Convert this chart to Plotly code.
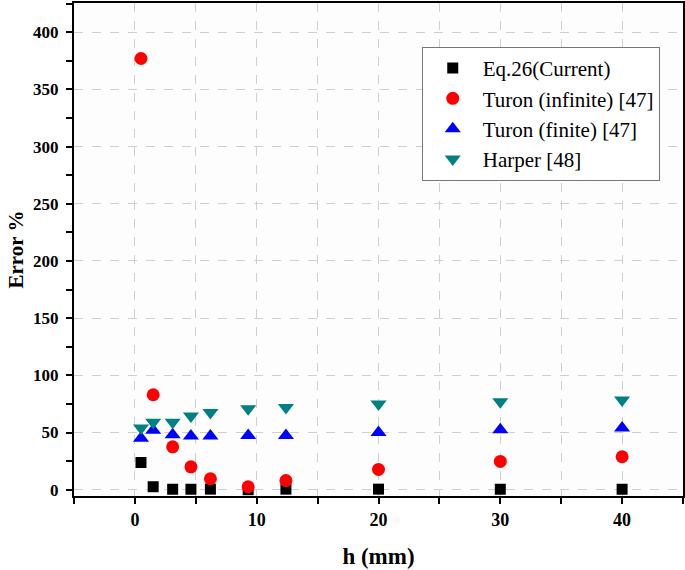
import plotly.graph_objects as go

h = [0.5, 1.5, 3.1, 4.6, 6.2, 9.3, 12.4, 20, 30, 40]
eq26 = [23.8, 2.6, 0.4, 0.4, 0.5, 0.0, 0.5, 0.5, 0.4, 0.4]
turon_inf = [377, 83, 37.5, 20, 9.6, 2.6, 8, 17.7, 24.7, 28.8]
turon_fin = [45, 52, 48, 47, 47, 47.5, 47.5, 50, 52.5, 54]
harper = [54, 59, 59, 64.5, 67.5, 70.8, 71.8, 75, 77, 78.5]

x_ticks = [0, 10, 20, 30, 40]
y_ticks = [0, 50, 100, 150, 200, 250, 300, 350, 400]

series = [
    ("Eq.26(Current)", eq26, "square", "#000000", 11),
    ("Turon (infinite) [47]", turon_inf, "circle", "#ff0000", 13),
    ("Turon (finite) [47]", turon_fin, "triangle-up", "#0000ff", 14),
    ("Harper [48]", harper, "triangle-down", "#008080", 14),
]

fig = go.Figure()
for name, ys, sym, col, sz in series:
    fig.add_trace(go.Scatter(x=h, y=ys, mode="markers", name=name,
                             marker=dict(symbol=sym, color=col, size=sz, line=dict(width=0))))

grid = "#cfcfcf"
axis_common = dict(showline=True, linecolor="black", linewidth=2, mirror=True,
                   ticks="outside", ticklen=6, tickwidth=1.5, tickcolor="black",
                   gridcolor=grid, griddash="dash", gridwidth=1, zeroline=False,
                   automargin=False)

fig.update_xaxes(range=[-5, 45], tickmode="array", tickvals=x_ticks,
                 ticktext=[f"<b>{v}</b>" for v in x_ticks],
                 tickfont=dict(family="Liberation Serif", size=18, color="black"),
                 minor=dict(dtick=5, tick0=0, ticks="outside", ticklen=6, tickwidth=1.5, tickcolor="black",
                            showgrid=True, gridcolor=grid, griddash="dash", gridwidth=1),
                 title=dict(text="<b>h (mm)</b>", font=dict(family="Liberation Serif", size=23, color="black"), standoff=19),
                 **axis_common)
fig.update_yaxes(range=[-5.5, 425.5], tickmode="array", tickvals=y_ticks,
                 ticktext=[f"<b>{v}</b>" for v in y_ticks],
                 tickfont=dict(family="Liberation Serif", size=17, color="black"),
                 ticklabelstandoff=4,
                 minor=dict(dtick=25, tick0=0, ticks="outside", ticklen=6, tickwidth=1.5, tickcolor="black", showgrid=False),
                 title=dict(text="<b>Error %</b>", font=dict(family="Liberation Serif", size=21, color="black"), standoff=4),
                 **axis_common)

fig.update_layout(
    width=685, height=570,
    margin=dict(l=74, r=2, t=3, b=74),
    plot_bgcolor="#fdfdfd", paper_bgcolor="white",
    showlegend=True,
    legend=dict(x=0.571, y=0.911, xanchor="left", yanchor="top",
                bgcolor="white", bordercolor="#777777", borderwidth=1,
                font=dict(family="Liberation Serif", size=21, color="black"),
                itemwidth=50, tracegroupgap=0),
)

fig.write_html("out.html", config={"displayModeBar": False},
               post_script="document.body.style.margin='0';")
